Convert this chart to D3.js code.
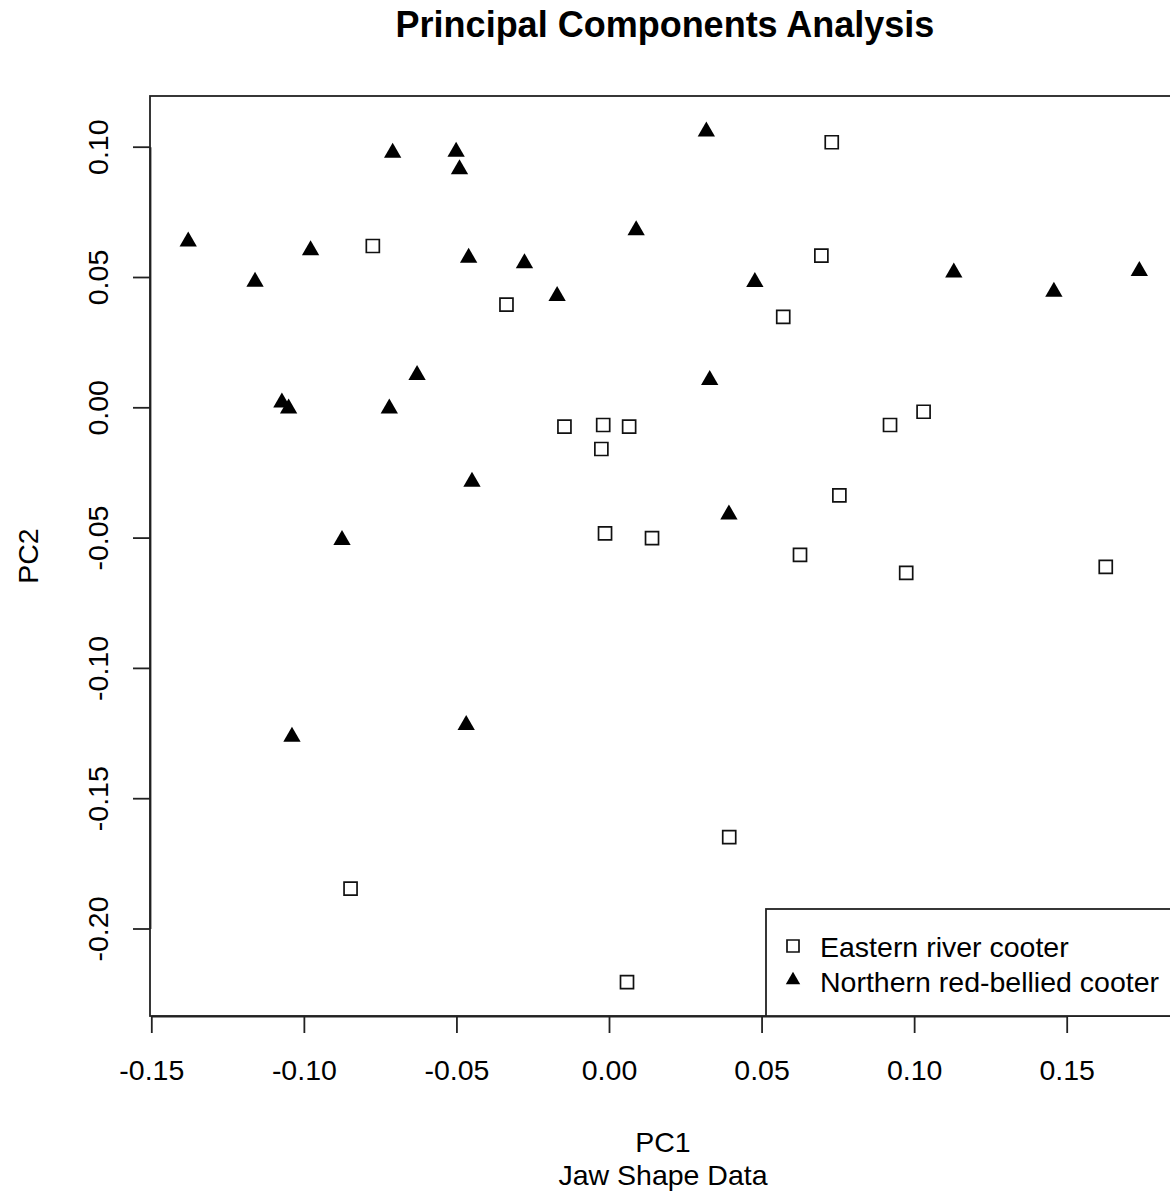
<!DOCTYPE html>
<html>
<head>
<meta charset="utf-8">
<script src="https://cdn.jsdelivr.net/npm/d3@7"></script>
<style>
  body { margin: 0; background: #fff; }
  #scatter { width: 1170px; height: 1197px; }
  text { font-family: "Liberation Sans", Arial, sans-serif; fill: #000; }
</style>
</head>
<body>
<div id="scatter"></div>
<script>
// values
var seriesNames = ["Eastern river cooter", "Northern red-bellied cooter"];

var easternPC1 = [-0.0774, -0.0336, -0.0146, -0.0019, 0.0066, 0.0730, 0.0696, 0.0571, 0.1031, 0.0921,
                  -0.0025, -0.0013, 0.0141, 0.0755, 0.0626, 0.0974, 0.1628, 0.0394, -0.0847, 0.0059];
var easternPC2 = [0.0619, 0.0394, -0.0074, -0.0068, -0.0074, 0.1017, 0.0582, 0.0347, -0.0017, -0.0068,
                  -0.0160, -0.0484, -0.0502, -0.0338, -0.0566, -0.0635, -0.0612, -0.1649, -0.1847, -0.2206];

var northernPC1 = [-0.0709, -0.0501, -0.0490, -0.1379, -0.0978, -0.1160, -0.0460, -0.0277, -0.0170, 0.0089,
                   -0.0629, -0.1072, -0.1050, -0.0720, 0.0319, 0.0478, 0.1130, 0.1458, 0.1738, 0.0330,
                   -0.0449, -0.0875, -0.1039, -0.0468, 0.0393];
var northernPC2 = [0.0977, 0.0981, 0.0913, 0.0636, 0.0603, 0.0482, 0.0574, 0.0553, 0.0427, 0.0679,
                   0.0124, 0.0018, -0.0005, -0.0005, 0.1058, 0.0481, 0.0517, 0.0443, 0.0523, 0.0105,
                   -0.0286, -0.0509, -0.1264, -0.1219, -0.0411];

var xTicks = [-0.15, -0.10, -0.05, 0.00, 0.05, 0.10, 0.15];
var yTicks = [-0.20, -0.15, -0.10, -0.05, 0.00, 0.05, 0.10];

var svgWidth = 1170;
var svgHeight = 1197;

// plot box (R leaves it running past the right edge of the picture)
var box = { left: 150, top: 96, right: 1176, bottom: 1016 };

var svg = d3.select("#scatter")
  .append("svg")
  .attr("width", svgWidth)
  .attr("height", svgHeight);

var xScale = d3.scaleLinear()
  .domain([-0.15, 0.15])
  .range([151.3, 1066.7]);

var yScale = d3.scaleLinear()
  .domain([-0.20, 0.10])
  .range([928.5, 146.7]);

// plain hyphen for the minus sign, like R
var fmt = d3.formatLocale({ decimal: ".", thousands: ",", grouping: [3], currency: ["", ""], minus: "-" })
  .format(".2f");

// axes
var bottomAxis = d3.axisBottom(xScale)
  .tickValues(xTicks)
  .tickFormat(fmt)
  .tickSizeInner(17)
  .tickSizeOuter(0);

var leftAxis = d3.axisLeft(yScale)
  .tickValues(yTicks)
  .tickFormat(fmt)
  .tickSizeInner(17)
  .tickSizeOuter(0);

var xAxisG = svg.append("g")
  .attr("transform", `translate(0, ${box.bottom})`)
  .call(bottomAxis);

xAxisG.selectAll("text")
  .attr("y", 64)
  .attr("dy", null)
  .attr("font-size", 28.5);

var yAxisG = svg.append("g")
  .attr("transform", `translate(${box.left}, 0)`)
  .call(leftAxis);

yAxisG.selectAll("text")
  .attr("transform", "rotate(-90)")
  .attr("x", 0)
  .attr("y", -42)
  .attr("dy", null)
  .attr("text-anchor", "middle")
  .attr("font-size", 28.5);

svg.selectAll(".domain, .tick line")
  .attr("stroke", "#222")
  .attr("stroke-width", 1.8);

svg.selectAll(".tick text").attr("fill", "#000");

// frame
svg.append("rect")
  .attr("x", box.left)
  .attr("y", box.top)
  .attr("width", box.right - box.left)
  .attr("height", box.bottom - box.top)
  .attr("fill", "none")
  .attr("stroke", "#222")
  .attr("stroke-width", 1.8);

// points
var square = d3.symbol().type(d3.symbolSquare).size(169);
var triangle = d3.symbol().type(d3.symbolTriangle).size(130);

var eastern = easternPC1.map(function(v, i) { return { pc1: v, pc2: easternPC2[i] }; });
var northern = northernPC1.map(function(v, i) { return { pc1: v, pc2: northernPC2[i] }; });

svg.append("g").selectAll("path")
  .data(eastern)
  .enter()
  .append("path")
  .attr("d", square)
  .attr("transform", function(d) { return "translate(" + xScale(d.pc1) + "," + yScale(d.pc2) + ")"; })
  .attr("fill", "none")
  .attr("stroke", "#111")
  .attr("stroke-width", 1.7);

svg.append("g").selectAll("path")
  .data(northern)
  .enter()
  .append("path")
  .attr("d", triangle)
  .attr("transform", function(d) { return "translate(" + xScale(d.pc1) + "," + yScale(d.pc2) + ")"; })
  .attr("fill", "#000");

// legend, bottom right inside the box
var legend = svg.append("g");

legend.append("rect")
  .attr("x", 766)
  .attr("y", 909)
  .attr("width", box.right - 766)
  .attr("height", box.bottom - 909)
  .attr("fill", "#fff")
  .attr("stroke", "#222")
  .attr("stroke-width", 1.8);

legend.append("path")
  .attr("d", d3.symbol().type(d3.symbolSquare).size(144)())
  .attr("transform", "translate(793, 946)")
  .attr("fill", "none")
  .attr("stroke", "#111")
  .attr("stroke-width", 1.7);

legend.append("path")
  .attr("d", d3.symbol().type(d3.symbolTriangle).size(90)())
  .attr("transform", "translate(793, 980)")
  .attr("fill", "#000");

legend.selectAll("text.item")
  .data(seriesNames)
  .enter()
  .append("text")
  .attr("class", "item")
  .attr("x", 820)
  .attr("y", function(d, i) { return 957 + i * 35; })
  .attr("font-size", 28.5)
  .text(function(d) { return d; });

// titles
var midX = (box.left + box.right) / 2;

svg.append("text")
  .attr("x", midX + 2)
  .attr("y", 37)
  .attr("text-anchor", "middle")
  .attr("font-size", 36)
  .attr("font-weight", "bold")
  .text("Principal Components Analysis");

svg.append("text")
  .attr("x", midX)
  .attr("y", 1152)
  .attr("text-anchor", "middle")
  .attr("font-size", 28.5)
  .text("PC1");

svg.append("text")
  .attr("x", midX)
  .attr("y", 1185)
  .attr("text-anchor", "middle")
  .attr("font-size", 28.5)
  .text("Jaw Shape Data");

svg.append("text")
  .attr("transform", "translate(38, " + ((box.top + box.bottom) / 2) + ") rotate(-90)")
  .attr("text-anchor", "middle")
  .attr("font-size", 28.5)
  .text("PC2");
</script>
</body>
</html>
